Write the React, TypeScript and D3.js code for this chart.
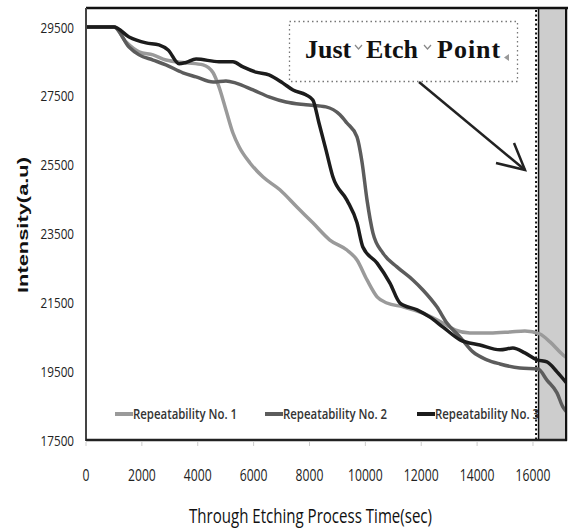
import React, { useEffect } from "react";
import * as d3 from "d3";

const xTicks = [0, 2000, 4000, 6000, 8000, 10000, 12000, 14000, 16000];
const yTicks = [17500, 19500, 21500, 23500, 25500, 27500, 29500];

const s1Time = [0, 1000, 1430, 1900, 2400, 2860, 3580, 4190, 4550, 4760, 5010, 5260, 5480, 5870, 6340, 6940, 7550, 8120, 8730, 9340, 9700, 10060, 10420, 10770, 11350, 12060, 12780, 13210, 13740, 14460, 15180, 15710, 16250, 16610, 17040, 17200];
const s1Val = [29500, 29500, 29070, 28780, 28690, 28540, 28460, 28400, 28170, 27760, 27090, 26420, 26020, 25550, 25140, 24770, 24270, 23810, 23310, 23020, 22730, 22150, 21660, 21480, 21370, 21190, 20900, 20700, 20610, 20610, 20640, 20670, 20580, 20350, 20000, 19890];

const s2Time = [0, 1000, 1540, 1900, 2400, 2860, 3470, 3940, 4550, 5010, 5370, 5980, 6550, 7160, 7870, 8590, 9090, 9340, 9700, 9880, 10060, 10270, 10630, 11130, 11700, 12060, 12560, 12920, 13390, 13850, 14350, 14820, 15530, 16180, 16500, 16860, 17070, 17200];
const s2Val = [29500, 29500, 28920, 28690, 28540, 28400, 28170, 28050, 27900, 27930, 27870, 27670, 27470, 27320, 27240, 27180, 26950, 26710, 26310, 25580, 24470, 23520, 22930, 22530, 22150, 21860, 21370, 20900, 20490, 20060, 19830, 19710, 19590, 19560, 19240, 18870, 18460, 18320];

const s3Time = [0, 1000, 1540, 2150, 2610, 2940, 3330, 3580, 3940, 4760, 5260, 5620, 6080, 6550, 7050, 7410, 7870, 8120, 8340, 8590, 8840, 9340, 9700, 9910, 10420, 10880, 11240, 11850, 12310, 12780, 13390, 14100, 14820, 15280, 15710, 16140, 16500, 16860, 17200];
const s3Val = [29500, 29500, 29210, 29040, 28980, 28830, 28430, 28470, 28570, 28490, 28490, 28340, 28190, 28110, 27870, 27670, 27530, 27380, 26710, 25930, 25140, 24470, 23810, 23110, 22640, 22060, 21480, 21280, 21070, 20780, 20410, 20260, 20120, 20170, 20030, 19830, 19770, 19480, 19160];

const seriesNames = ["Repeatability No. 1", "Repeatability No. 2", "Repeatability No. 3"];
const seriesColors = ["#9a9a9a", "#5c5c5c", "#1c1c1c"];

const bandStart = 16200;
const bandEnd = 17200;

export default function App() {
  useEffect(() => {
    document.body.style.margin = "0";
  }, []);

  const x = d3.scaleLinear().domain([0, 17200]).range([86, 566.5]);
  const y = d3.scaleLinear().domain([17500, 29500]).range([440, 27]);

  const line = d3
    .line<[number, number]>()
    .x((d) => x(d[0]))
    .y((d) => y(d[1]))
    .curve(d3.curveMonotoneX);

  const series = [
    s1Time.map((t, i) => [t, s1Val[i]] as [number, number]),
    s2Time.map((t, i) => [t, s2Val[i]] as [number, number]),
    s3Time.map((t, i) => [t, s3Val[i]] as [number, number]),
  ];

  const legendX = [115, 265, 417];
  const legendTextX = [133, 283, 435];
  const legendY = 414;

  const bx0 = x(bandStart);
  const bx1 = x(bandEnd);

  return (
    <svg width={568} height={532} style={{ position: "absolute", left: 0, top: 0, background: "#fff" }}>
      <defs>
        <clipPath id="plotClip">
          <rect x={86} y={8} width={bx1 - 86} height={432} />
        </clipPath>
      </defs>
      <rect x={0} y={0} width={568} height={532} fill="#fff" />

      {/* legend */}
      {seriesNames.map((n, i) => (
        <g key={n}>
          <line x1={legendX[i]} x2={legendX[i] + 18} y1={legendY} y2={legendY} stroke={seriesColors[i]} strokeWidth={4} />
          <text
            x={legendTextX[i]}
            y={legendY + 5}
            fontFamily="'Open Sans', sans-serif"
            fontSize={14}
            fontWeight={600}
            fill="#333"
            textLength={104}
            lengthAdjust="spacingAndGlyphs"
          >
            {n}
          </text>
        </g>
      ))}

      {/* gray band */}
      <rect x={bx0} y={8} width={bx1 - bx0} height={432} fill="#cdcdcd" stroke="#111" strokeWidth={1.5} />
      <line x1={bx0 - 2.5} x2={bx0 - 2.5} y1={10} y2={440} stroke="#111" strokeWidth={2} strokeDasharray="2,2.5" />

      {/* lines */}
      <g clipPath="url(#plotClip)">
        {series.map((s, i) => (
          <path key={i} d={line(s) || ""} fill="none" stroke={seriesColors[i]} strokeWidth={3.5} strokeLinejoin="round" />
        ))}
      </g>

      {/* frame */}
      <line x1={86} x2={568} y1={8} y2={8} stroke="#111" strokeWidth={2.5} />
      <line x1={86} x2={86} y1={8} y2={441} stroke="#444" strokeWidth={2} />
      <line x1={86} x2={567} y1={440} y2={440} stroke="#222" strokeWidth={2.5} />
      <line x1={566} x2={566} y1={8} y2={441} stroke="#111" strokeWidth={2} />

      {/* x ticks */}
      {xTicks.map((t) => (
        <g key={t}>
          <line x1={x(t)} x2={x(t)} y1={442} y2={446} stroke="#ccc" strokeWidth={1} />
          <g transform={`translate(${x(t)},481) scale(0.76,1)`}>
            <text x={0} y={0} textAnchor="middle" fontFamily="'Open Sans', sans-serif" fontSize={16} fill="#222">
              {t}
            </text>
          </g>
        </g>
      ))}

      {/* y ticks */}
      {yTicks.map((t) => (
        <g key={t} transform={`translate(74,${y(t) + 5.5}) scale(0.78,1)`}>
          <text x={0} y={0} textAnchor="end" fontFamily="'Open Sans', sans-serif" fontSize={15} fill="#222">
            {t}
          </text>
        </g>
      ))}

      {/* axis titles */}
      <text
        transform="translate(28,225) rotate(-90)"
        textAnchor="middle"
        fontFamily="'Liberation Sans', Arial, sans-serif"
        fontSize={15}
        fontWeight="bold"
        fill="#111"
        textLength={136}
        lengthAdjust="spacingAndGlyphs"
      >
        Intensity(a.u)
      </text>
      <text
        x={189}
        y={523}
        fontFamily="'Open Sans', sans-serif"
        fontSize={20}
        fill="#111"
        textLength={243}
        lengthAdjust="spacingAndGlyphs"
      >
        Through Etching Process Time(sec)
      </text>

      {/* annotation */}
      <rect x={289.5} y={21.5} width={228} height={60} fill="#fff" stroke="#777" strokeWidth={1.3} strokeDasharray="1.5,3" />
      <g fontFamily="'Liberation Serif', 'Times New Roman', serif" fontWeight="bold" fontSize={26} fill="#111">
        <text x={305} y={58}>Just</text>
        <text x={366} y={58}>Etch</text>
        <text x={437} y={58} letterSpacing={1}>Point</text>
      </g>
      <path d="M355,45 L358.5,49 L362,45" fill="none" stroke="#888" strokeWidth={1.2} />
      <path d="M424,45 L427.5,49 L431,45" fill="none" stroke="#888" strokeWidth={1.2} />
      <path d="M509,54 L504,57.5 L509,61 Z" fill="#999" />

      {/* arrow */}
      <line x1={419} y1={82} x2={525} y2={170} stroke="#222" strokeWidth={2.5} />
      <path d="M514,143 L525,170 L496,163" fill="none" stroke="#222" strokeWidth={2.5} strokeLinejoin="miter" />
    </svg>
  );
}
